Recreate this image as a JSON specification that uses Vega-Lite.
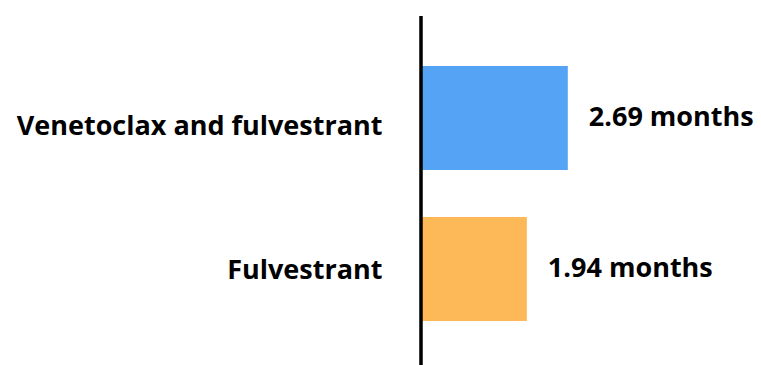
{
  "$schema": "https://vega.github.io/schema/vega-lite/v6.json",
  "width": 340,
  "height": 349,
  "autosize": {"type": "none"},
  "padding": {"left": 421, "top": 16, "right": 0, "bottom": 0},
  "background": "white",
  "config": {"view": {"stroke": null}},
  "data": {
    "values": [
      {"treatment": "Venetoclax and fulvestrant", "months": 2.69, "label": "2.69 months"},
      {"treatment": "Fulvestrant", "months": 1.94, "label": "1.94 months"}
    ]
  },
  "encoding": {
    "y": {
      "field": "treatment",
      "type": "nominal",
      "sort": null,
      "scale": {"range": [50, 305], "paddingInner": 0.311, "paddingOuter": 0},
      "axis": {
        "title": null,
        "domain": false,
        "ticks": false,
        "grid": false,
        "labelPadding": 39,
        "labelFont": "Open Sans",
        "labelFontSize": 27,
        "labelFontWeight": "bold",
        "labelColor": "black",
        "labelLimit": 500,
        "labelBaseline": "middle",
        "labelOffset": {"condition": {"test": "datum.value === 'Venetoclax and fulvestrant'", "value": 9}, "value": 2}
      }
    },
    "x": {
      "field": "months",
      "type": "quantitative",
      "scale": {"domain": [0, 6.23], "nice": false, "zero": true},
      "axis": null
    }
  },
  "layer": [
    {
      "mark": {"type": "bar"},
      "encoding": {
        "color": {
          "field": "treatment",
          "type": "nominal",
          "scale": {"domain": ["Venetoclax and fulvestrant", "Fulvestrant"], "range": ["#55A3F5", "#FDB957"]},
          "legend": null
        }
      }
    },
    {
      "mark": {"type": "text", "align": "left", "baseline": "middle", "dx": 21, "font": "Open Sans", "fontWeight": "bold", "fontSize": 27, "color": "black"},
      "encoding": {"text": {"field": "label"}}
    },
    {
      "mark": {"type": "rule", "color": "black", "strokeWidth": 3},
      "encoding": {"x": {"datum": 0}, "y": null}
    }
  ]
}
